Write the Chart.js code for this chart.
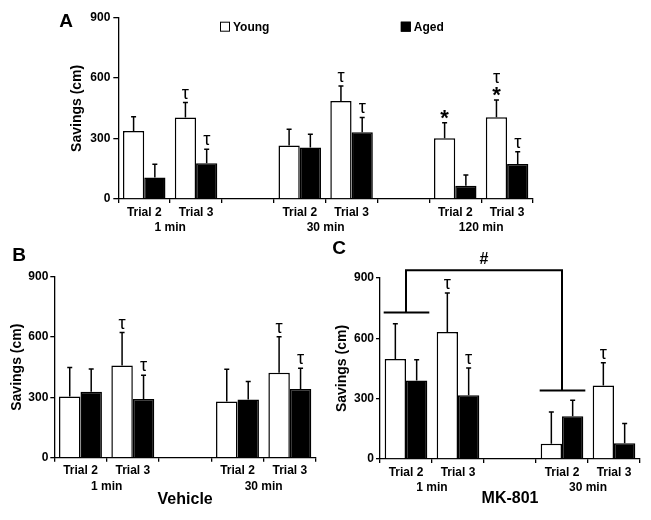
<!DOCTYPE html>
<html>
<head>
<meta charset="utf-8">
<script src="https://cdn.jsdelivr.net/npm/chart.js@4.4.0/dist/chart.umd.min.js"></script>
<style>
  body { margin: 0; background: #fff; }
  #wrap { position: relative; width: 651px; height: 520px; }
  canvas { position: absolute; }
</style>
</head>
<body>
<div id="wrap">
  <canvas id="chartA" width="651" height="240" style="left:0;top:0"></canvas>
  <canvas id="chartB" width="325" height="280" style="left:0;top:240px"></canvas>
  <canvas id="chartC" width="326" height="280" style="left:325px;top:240px"></canvas>
</div>
<script>
// Dados (cm)
const yTicks = [0, 300, 600, 900];

// Painel A
const aLabels = ["Trial 2", "Trial 3", "", "Trial 2", "Trial 3", "", "Trial 2", "Trial 3"];
const aGroups = ["1 min", "30 min", "120 min"];
const aGroupStart = [0, 3, 6];
const aYoung = [338, 404, null, 265, 486, null, 302, 406];
const aYoungErr = [70, 75, null, 81, 75, null, 77, 86];
const aYoungMarks = ["", "τ", "", "", "τ", "", "*", "τ*"];
const aAged = [107, 177, null, 256, 331, null, 66, 174];
const aAgedErr = [66, 70, null, 65, 74, null, 53, 61];
const aAgedMarks = ["", "τ", "", "", "τ", "", "", "τ"];

// Painel B (Vehicle)
const bLabels = ["Trial 2", "Trial 3", "", "Trial 2", "Trial 3"];
const bGroups = ["1 min", "30 min"];
const bGroupStart = [0, 3];
const bYoung = [304, 458, null, 279, 423];
const bYoungErr = [144, 164, null, 161, 179];
const bYoungMarks = ["", "τ", "", "", "τ"];
const bAged = [328, 292, null, 289, 342];
const bAgedErr = [113, 118, null, 90, 103];
const bAgedMarks = ["", "τ", "", "", "τ"];

// Painel C (MK-801)
const cLabels = ["Trial 2", "Trial 3", "", "Trial 2", "Trial 3"];
const cGroups = ["1 min", "30 min"];
const cGroupStart = [0, 3];
const cYoung = [497, 632, null, 76, 365];
const cYoungErr = [176, 194, null, 158, 114];
const cYoungMarks = ["", "τ", "", "", "τ"];
const cAged = [390, 317, null, 212, 78];
const cAgedErr = [104, 136, null, 80, 99];
const cAgedMarks = ["", "τ", "", "", ""];
// colchete "#" : categorias ligadas, alturas das barras laterais e do topo
const cBracketCats = [0, 3];
const cBracketLevels = [729, 340];
const cBracketTop = 938;

const FF = '"Liberation Sans", Arial, sans-serif';

// barras de erro + simbolos (τ, *)
const errorPlugin = {
  id: 'errorBars',
  afterDatasetsDraw(chart) {
    const ctx = chart.ctx;
    const y = chart.scales.y;
    chart.data.datasets.forEach((ds, di) => {
      chart.getDatasetMeta(di).data.forEach((bar, i) => {
        const v = ds.data[i];
        if (v == null) return;
        const top = y.getPixelForValue(v + ds.errors[i]);
        ctx.save();
        ctx.strokeStyle = '#000';
        ctx.lineWidth = 1.5;
        ctx.beginPath();
        ctx.moveTo(bar.x, bar.y);
        ctx.lineTo(bar.x, top);
        ctx.moveTo(bar.x - 2.5, top);
        ctx.lineTo(bar.x + 2.5, top);
        ctx.stroke();
        let cursor = top - 4;
        const m = ds.marks[i] || '';
        ctx.fillStyle = '#000';
        ctx.textAlign = 'center';
        ctx.textBaseline = 'alphabetic';
        for (let k = m.length - 1; k >= 0; k--) {
          const ch = m[k];
          ctx.font = ch === '*' ? 'bold 22px ' + FF : '18px ' + FF;
          const mt = ctx.measureText(ch);
          ctx.fillText(ch, bar.x, cursor - mt.actualBoundingBoxDescent);
          cursor -= mt.actualBoundingBoxAscent + mt.actualBoundingBoxDescent + 4;
        }
        ctx.restore();
      });
    });
  }
};

// letra do painel, legendas de grupo (1 min...), legenda e colchete
const panelPlugin = {
  id: 'panel',
  afterDraw(chart, args, o) {
    const ctx = chart.ctx;
    const x = chart.scales.x, y = chart.scales.y;
    const area = chart.chartArea;
    ctx.save();
    ctx.fillStyle = '#000';
    ctx.textAlign = 'center';
    ctx.textBaseline = 'middle';
    ctx.font = 'bold 19px ' + FF;
    ctx.fillText(o.letter, o.letterX, o.letterY);

    ctx.font = 'bold 12px ' + FF;
    o.groups.forEach((g, i) => {
      const s = o.groupStart[i];
      const gx = (x.getPixelForValue(s) + x.getPixelForValue(s + 1)) / 2;
      ctx.fillText(g, gx, area.bottom + 29);
    });

    if (o.legend) {
      ctx.textAlign = 'left';
      chart.data.datasets.forEach((ds, i) => {
        const lx = area.left + o.legend[i];
        const ly = area.top + 9;
        ctx.fillStyle = ds.backgroundColor;
        ctx.fillRect(lx, ly - 5, 10, 10);
        ctx.strokeStyle = '#000';
        ctx.lineWidth = 1;
        ctx.strokeRect(lx + 0.5, ly - 4.5, 9, 9);
        ctx.fillStyle = '#000';
        ctx.fillText(ds.label, lx + 13, ly + 1);
      });
    }

    if (o.bracket) {
      const b = o.bracket;
      const m0 = chart.getDatasetMeta(0).data, m1 = chart.getDatasetMeta(1).data;
      const span = c => [m0[c].x - m0[c].width / 2 - 1, m1[c].x + m1[c].width / 2 + 2];
      const [l0, l1] = span(b.cats[0]);
      const [r0, r1] = span(b.cats[1]);
      const xl = x.getPixelForValue(b.cats[0]), xr = x.getPixelForValue(b.cats[1]);
      const yl = y.getPixelForValue(b.levels[0]), yr = y.getPixelForValue(b.levels[1]);
      const yt = y.getPixelForValue(b.top);
      ctx.strokeStyle = '#000';
      ctx.lineWidth = 2;
      ctx.beginPath();
      ctx.moveTo(l0, yl); ctx.lineTo(l1, yl);
      ctx.moveTo(xl, yl); ctx.lineTo(xl, yt); ctx.lineTo(xr, yt); ctx.lineTo(xr, yr);
      ctx.moveTo(r0, yr); ctx.lineTo(r1, yr);
      ctx.stroke();
      ctx.textAlign = 'center';
      ctx.font = 'bold 16px ' + FF;
      ctx.fillText('#', (xl + xr) / 2, yt - 11);
    }
    ctx.restore();
  }
};

const painel = (p) => {
  return new Chart(document.getElementById(p.id), {
    type: 'bar',
    data: {
      labels: p.labels,
      datasets: [
        { label: 'Young', data: p.young, errors: p.youngErr, marks: p.youngMarks,
          backgroundColor: '#fff', borderColor: '#000', borderWidth: 1.5 },
        { label: 'Aged', data: p.aged, errors: p.agedErr, marks: p.agedMarks,
          backgroundColor: '#000', borderColor: '#000', borderWidth: 1.5 }
      ]
    },
    options: {
      responsive: false,
      animation: false,
      layout: { padding: p.padding },
      datasets: { bar: { categoryPercentage: 0.82, barPercentage: 1 } },
      plugins: {
        legend: { display: false },
        tooltip: { enabled: false },
        panel: p.panel
      },
      scales: {
        x: {
          grid: { offset: true, drawOnChartArea: false, tickLength: 4, color: '#000', lineWidth: 1.3 },
          border: { color: '#000', width: 1.3 },
          ticks: { color: '#000', font: { family: FF, size: 12, weight: 'bold' }, padding: 2, maxRotation: 0, autoSkip: false },
          title: p.xTitle
            ? { display: true, text: p.xTitle, color: '#000', font: { family: FF, size: 16, weight: 'bold' }, padding: { top: 4, bottom: 4 } }
            : { display: false },
          afterFit: s => { s.height = p.xHeight; }
        },
        y: {
          min: 0,
          max: 900,
          afterBuildTicks: s => { s.ticks = yTicks.map(v => ({ value: v })); },
          grid: { drawOnChartArea: false, tickLength: p.tickLen, color: '#000', lineWidth: 1.3 },
          border: { color: '#000', width: 1.3 },
          ticks: { color: '#000', font: { family: FF, size: 12, weight: 'bold' }, padding: p.tickPad },
          title: { display: true, text: 'Savings (cm)', color: '#000', font: { family: FF, size: 14, weight: 'bold' }, padding: { top: 4, bottom: 4 } },
          afterFit: s => { s.width = p.yWidth; }
        }
      }
    },
    plugins: [errorPlugin, panelPlugin]
  });
};

painel({
  id: 'chartA', labels: aLabels,
  young: aYoung, youngErr: aYoungErr, youngMarks: aYoungMarks,
  aged: aAged, agedErr: aAgedErr, agedMarks: aAgedMarks,
  padding: { left: 64.6, right: 118, top: 17.7, bottom: 0 },
  yWidth: 53.7, xHeight: 41, tickLen: 5, tickPad: 3,
  panel: { letter: 'A', letterX: 66, letterY: 22, groups: aGroups, groupStart: aGroupStart, legend: [101.7, 282.5] }
});

painel({
  id: 'chartB', labels: bLabels,
  young: bYoung, youngErr: bYoungErr, youngMarks: bYoungMarks,
  aged: bAged, agedErr: bAgedErr, agedMarks: bAgedMarks,
  padding: { left: 4.3, right: 9, top: 36.7, bottom: 6.4 },
  yWidth: 50, xHeight: 55.9, tickLen: 4, tickPad: 2, xTitle: 'Vehicle',
  panel: { letter: 'B', letterX: 19, letterY: 16, groups: bGroups, groupStart: bGroupStart }
});

painel({
  id: 'chartC', labels: cLabels,
  young: cYoung, youngErr: cYoungErr, youngMarks: cYoungMarks,
  aged: cAged, agedErr: cAgedErr, agedMarks: cAgedMarks,
  padding: { left: 4.3, right: 11, top: 38, bottom: 8.1 },
  yWidth: 50.7, xHeight: 52.9, tickLen: 4, tickPad: 2, xTitle: 'MK-801',
  panel: { letter: 'C', letterX: 14, letterY: 9, groups: cGroups, groupStart: cGroupStart,
           bracket: { cats: cBracketCats, levels: cBracketLevels, top: cBracketTop } }
});
</script>
</body>
</html>
